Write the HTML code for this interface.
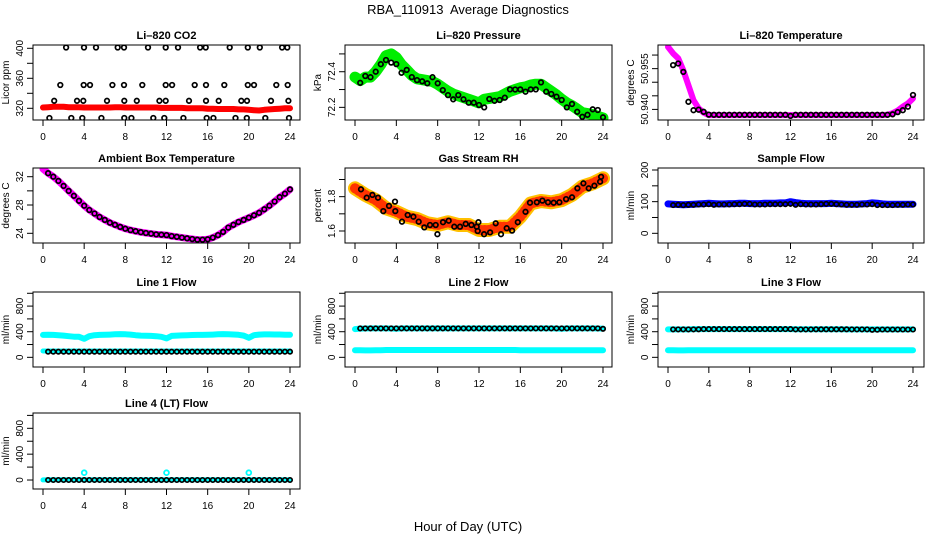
<!DOCTYPE html>
<html><head><meta charset="utf-8"><style>
html,body{margin:0;padding:0;background:#fff}
svg{display:block;font-family:"Liberation Sans",sans-serif}
</style></head><body>
<svg id="chart" width="936" height="540" viewBox="0 0 936 540" xmlns="http://www.w3.org/2000/svg">
<rect width="936" height="540" fill="#fff"/>
<text x="468" y="14" text-anchor="middle" font-size="13" xml:space="preserve" style="white-space:pre">RBA_110913  Average Diagnostics</text>
<text x="468" y="531" text-anchor="middle" font-size="13">Hour of Day (UTC)</text>
</svg>
<script>
// ---- shared x categories ----
const hours = [0,0.5,1,1.5,2,2.5,3,3.5,4,4.5,5,5.5,6,6.5,7,7.5,8,8.5,9,9.5,10,10.5,11,11.5,12,12.5,13,13.5,14,14.5,15,15.5,16,16.5,17,17.5,18,18.5,19,19.5,20,20.5,21,21.5,22,22.5,23,23.5,24];
const hoursB = [0.5,1,1.5,2,2.5,3,3.5,4,4.5,5,5.5,6,6.5,7,7.5,8,8.5,9,9.5,10,10.5,11,11.5,12,12.5,13,13.5,14,14.5,15,15.5,16,16.5,17,17.5,18,18.5,19,19.5,20,20.5,21,21.5,22,22.5,23,23.5,24];
const xTicks = [0,4,8,12,16,20,24];

// ---- Li-820 CO2 ----
const co2Red = [321,321.5,322,322,322,321.5,321.5,321.5,321,321,321,321,321,321,321.5,321.5,321,321,321,321,321,321,321,320.5,320.5,320.5,320.5,320.5,320,320,320,320,319.5,319.5,319,319,319,319,318.5,318.5,318,317.5,317,318,318.5,319,319.5,320,320];
const co2BlackHours = [2.24,3.98,5.15,7.26,7.87,10.2,11.92,13.12,15.26,15.81,18.14,19.9,21.07,23.23,23.74, 1.68,3.95,4.57,6.74,7.87,9.65,11.92,12.54,14.74,15.84,17.62,19.9,20.5,22.67,23.78, 1.09,3.3,3.92,6.22,7.9,9.11,11.31,11.92,14.19,15.84,17.07,19.27,19.82,22.15,23.84, 0.62,2.75,3.82,5.67,7.9,8.59,10.72,11.79,13.64,15.91,16.56,18.7,19.8,21.6,23.9];
const co2BlackVals = [401,401,401,401,401,401,401,401,401,401,401,401,401,401,401, 351,351,351,351,351,351,351,351,351,351,351,351,351,351,351, 330,330,330,330,330,330,330,330,330,330,330,330,330,330,330, 307,307,307,307,307,307,307,307,307,307,307,307,307,307,307];

// ---- Li-820 Pressure ----
const presGreen = [72.37,72.35,72.37,72.37,72.40,72.44,72.49,72.50,72.48,72.44,72.41,72.38,72.36,72.355,72.35,72.345,72.33,72.31,72.29,72.275,72.265,72.255,72.245,72.235,72.225,72.245,72.25,72.255,72.26,72.275,72.29,72.30,72.31,72.315,72.325,72.33,72.33,72.31,72.29,72.27,72.245,72.225,72.21,72.19,72.17,72.165,72.16,72.15,72.14];
const presBlack = [72.338,72.376,72.369,72.40,72.442,72.466,72.451,72.443,72.394,72.41,72.37,72.353,72.346,72.335,72.369,72.335,72.297,72.269,72.245,72.269,72.245,72.226,72.226,72.213,72.2,72.247,72.237,72.241,72.254,72.301,72.30,72.301,72.288,72.301,72.301,72.34,72.288,72.275,72.26,72.241,72.2,72.219,72.175,72.147,72.158,72.189,72.185,72.144];

// ---- Li-820 Temperature ----
const tempMag = [50.963,50.9606,50.9588,50.9544,50.9489,50.9434,50.9404,50.9388,50.9379,50.9379,50.9379,50.9379,50.9379,50.9379,50.9379,50.9379,50.9379,50.9379,50.9379,50.9379,50.9379,50.9379,50.9379,50.9379,50.9379,50.9379,50.9379,50.9379,50.9379,50.9379,50.9379,50.9379,50.9379,50.9379,50.9379,50.9379,50.9379,50.9379,50.9379,50.9379,50.9379,50.9379,50.9379,50.938,50.9386,50.9396,50.941,50.9422,50.944];
const tempBlack = [50.9563,50.9569,50.9538,50.9428,50.9397,50.9399,50.9391,50.9381,50.938,50.938,50.938,50.938,50.938,50.938,50.938,50.938,50.938,50.938,50.938,50.938,50.938,50.938,50.938,50.9376,50.938,50.938,50.938,50.938,50.938,50.938,50.938,50.938,50.938,50.938,50.938,50.938,50.938,50.938,50.938,50.938,50.938,50.938,50.938,50.9382,50.939,50.9397,50.941,50.9453];

// ---- Ambient Box Temperature ----
const ambMag = [33.1,32.5,32.0,31.4,30.7,30.0,29.3,28.6,27.9,27.3,26.8,26.3,25.9,25.5,25.2,24.9,24.65,24.45,24.3,24.15,24.05,23.95,23.85,23.8,23.75,23.6,23.5,23.4,23.3,23.2,23.1,23.1,23.15,23.4,23.75,24.2,24.8,25.2,25.6,25.9,26.2,26.55,26.9,27.4,27.9,28.5,29.1,29.6,30.2];
const ambBlack = [32.5,32.0,31.4,30.7,30.0,29.3,28.6,27.9,27.3,26.8,26.3,25.9,25.5,25.2,24.9,24.65,24.45,24.3,24.15,24.05,23.95,23.85,23.8,23.75,23.6,23.5,23.4,23.3,23.2,23.1,23.1,23.15,23.4,23.75,24.2,24.8,25.2,25.6,25.9,26.2,26.55,26.9,27.4,27.9,28.5,29.1,29.6,30.2];

// ---- Gas Stream RH ----
const rhHours = [0,1,2,3,4,5,6,7,8,9,10,11,12,13,14,15,16,17,18,19,20,21,22,23,24];
const rhOrange = [1.849,1.81,1.78,1.732,1.712,1.683,1.67,1.645,1.635,1.651,1.635,1.635,1.606,1.606,1.625,1.625,1.683,1.761,1.775,1.767,1.78,1.81,1.858,1.878,1.907];
const rhBlackHours = [0.58,1.13,1.68,2.23,2.74,3.29,3.87,3.9,4.55,5.1,5.65,6.16,6.71,7.26,7.81,7.97,8.52,9.07,9.61,10.16,10.71,11.26,11.78,11.87,11.94,12.49,13.07,13.62,14.13,14.68,15.2,15.75,16.5,16.94,17.59,18.14,18.68,19.23,19.78,20.43,21,21.52,22.1,22.62,23.17,23.72,23.82];
const rhBlackVals = [1.843,1.794,1.81,1.794,1.716,1.746,1.771,1.716,1.654,1.693,1.683,1.654,1.621,1.635,1.635,1.581,1.651,1.66,1.625,1.625,1.641,1.635,1.625,1.6,1.651,1.581,1.592,1.645,1.581,1.616,1.602,1.651,1.712,1.765,1.767,1.777,1.767,1.765,1.767,1.786,1.796,1.849,1.878,1.849,1.864,1.887,1.916];

// ---- Sample Flow ----
const sampleBlue = [93,92,91,90,91,92,93,94,95,94,93,93,94,94,95,95,94,94,94,95,95,95,96,96,100,97,95,94,94,94,94,94,95,94,93,92,92,92,93,94,96,95,93,92,92,92,92,92,92];
const sampleBlack = [89,90,89,90,90,91,91,92,90,91,91,91,92,92,93,93,91,91,91,92,92,92,92,93,90,92,91,91,91,92,93,93,92,91,90,90,90,91,91,92,89,89,89,89,90,90,91,91];

// ---- Line 1 Flow ----
const l1High = [350,352,350,345,340,330,322,320,290,330,345,350,352,355,360,362,360,355,345,340,338,335,330,320,296,335,340,342,345,348,350,350,352,355,360,362,360,356,352,340,305,345,355,358,358,356,356,354,352];
const l1Low = [99,99,99,99,99,99,99,99,99,99,99,99,99,99,99,99,99,99,99,99,99,99,99,99,99,99,99,99,99,99,99,99,99,99,99,99,99,99,99,99,99,99,99,99,99,99,99,99,99];
const l1Black = [88,88,88,88,88,88,88,88,88,88,88,88,88,88,88,88,88,88,88,88,88,88,88,88,88,88,88,88,88,88,88,88,88,88,88,88,88,88,88,88,88,88,88,88,88,88,88,88];

// ---- Line 2 Flow ----
const l2High = [440,448,450,452,452,452,452,450,445,452,452,452,452,452,452,452,452,452,452,452,452,452,452,452,452,452,452,452,452,452,452,452,452,452,452,452,452,452,452,450,445,452,452,452,452,452,452,450,448];
const l2Low = [110,110,108,108,110,112,114,114,114,114,114,114,114,114,114,114,114,114,114,114,114,114,114,114,114,114,114,114,114,114,114,114,112,112,112,112,112,112,112,112,112,112,112,112,112,112,112,112,112];
const l2Black = [452,452,452,452,452,452,452,452,452,452,452,452,452,452,452,452,452,452,452,452,452,452,452,452,452,452,452,452,452,452,452,452,452,452,452,452,452,452,452,452,452,452,452,452,452,452,452,445];

// ---- Line 3 Flow ----
const l3High = [436,436,436,436,436,440,440,440,440,440,440,440,440,440,440,440,440,440,440,440,440,440,440,440,440,438,438,438,438,438,438,438,438,438,438,436,436,436,436,436,436,436,436,436,436,436,436,436,436];
const l3Low = [109,109,108,108,110,110,110,110,110,110,110,110,110,112,112,112,112,112,112,112,112,112,112,112,112,112,112,112,112,112,112,112,110,110,110,110,110,110,110,110,110,110,110,110,110,110,110,110,109];
const l3Black = [436,436,436,436,436,438,440,440,440,440,440,440,440,440,440,440,440,440,440,440,440,440,440,440,436,436,436,436,438,438,438,438,438,438,438,436,436,436,436,430,432,434,434,434,434,434,434,434];

// ---- Line 4 (LT) Flow ----
const l4Cyan = [2,3,3,3,3,3,3,3,3,3,3,3,3,3,3,3,3,3,3,3,3,3,3,3,3,3,3,3,3,3,3,3,3,3,3,3,3,3,3,3,3,3,3,3,3,3,3,3,3];
const l4SpikeHours = [4,12,20];
const l4SpikeVals = [113,113,113];
const l4Black = [0,0,0,0,0,0,0,0,0,0,0,0,0,0,0,0,0,0,0,0,0,0,0,0,0,0,0,0,0,0,0,0,0,0,0,0,0,0,0,0,0,0,0,0,0,0,0,0];

// ---- Y tick values ----
const co2Ticks = [320,340,360,380,400], co2Labels = ["320","","360","","400"];
const presTicks = [72.2,72.3,72.4,72.5], presLabels = ["72.2","","72.4",""];
const tempTicks = [50.940,50.945,50.950,50.955,50.960], tempLabels = ["50.940","","","50.955",""];
const ambTicks = [24,26,28,30,32], ambLabels = ["24","","28","","32"];
const rhTicks = [1.6,1.7,1.8,1.9], rhLabels = ["1.6","","1.8",""];
const sampleTicks = [0,50,100,150,200], sampleLabels = ["0","","100","","200"];
const flowTicks = [0,200,400,600,800,1000], flowLabels = ["0","","400","","800",""];

// ---- layout (not data) ----
const COLS = [{l:33,r:300,x0:43,x24:290},{l:345,r:612,x0:355,x24:603},{l:658,r:924,x0:668,x24:913}];
const ROWS = [{t:45,b:120},{t:168,b:243},{t:292,b:367},{t:413,b:489}];
const NS = "http://www.w3.org/2000/svg";
const svg = document.getElementById("chart");

function el(tag, attrs, parent){
  const e = document.createElementNS(NS, tag);
  for (const k in attrs) e.setAttribute(k, attrs[k]);
  (parent||svg).appendChild(e);
  return e;
}

function makePanel(name, title, ylab, col, row, ymin, ymax, ticks, labels){
  const C = COLS[col], R = ROWS[row];
  const g = el("g", {});
  
  
  const sx = h => C.x0 + (h/24)*(C.x24 - C.x0);
  const sy = v => R.b - (v - ymin)/(ymax - ymin)*(R.b - R.t);
  const t = el("text", {x:(C.l+C.r)/2, y:R.t-6, "text-anchor":"middle", "font-size":"11", "font-weight":"bold"}, g);
  t.textContent = title;
  
  
  const xa = el("g", {stroke:"#000","stroke-width":"1"}, g);
  
  
  el("line", {x1:sx(0), x2:sx(24), y1:R.b, y2:R.b}, xa);
  xTicks.forEach(h => {
    el("line", {x1:sx(h), x2:sx(h), y1:R.b, y2:R.b+6}, xa);
    const tl = el("text", {x:sx(h), y:R.b+20, "text-anchor":"middle", "font-size":"10", stroke:"none", fill:"#000"}, xa);
    tl.textContent = String(h);
    
    
  });
  const ya = el("g", {stroke:"#000","stroke-width":"1"}, g);
  
  
  el("line", {x1:C.l, x2:C.l, y1:sy(ticks[0]), y2:sy(ticks[ticks.length-1])}, ya);
  ticks.forEach((v,i) => {
    el("line", {x1:C.l-6, x2:C.l, y1:sy(v), y2:sy(v)}, ya);
    if (labels[i]) {
      const x = C.l-10, y = sy(v);
      const tl = el("text", {x:x, y:y, "text-anchor":"middle", "font-size":"10", stroke:"none", fill:"#000", transform:`rotate(-90 ${x} ${y})`}, ya);
      tl.textContent = labels[i];
      
      
    }
  });
  const yx = C.l-24, yy = (R.t+R.b)/2;
  const yl = el("text", {x:yx, y:yy, "text-anchor":"middle", "font-size":"10", transform:`rotate(-90 ${yx} ${yy})`}, g);
  yl.textContent = ylab;
  
  
  const cid = "clip-" + name;
  const cp = el("clipPath", {id:cid}, g);
  el("rect", {x:C.l, y:R.t, width:C.r-C.l, height:R.b-R.t}, cp);
  const plot = el("g", {"clip-path":`url(#${cid})`}, g);
  
  
  const box = el("rect", {x:C.l, y:R.t, width:C.r-C.l, height:R.b-R.t, fill:"none", stroke:"#000", "stroke-width":"1"}, g);
  
  
  return {sx, sy, plot};
}

function band(P, xs, vs, color, width, name){
  const pts = vs.map((v,i) => P.sx(xs[i]).toFixed(1) + "," + P.sy(v).toFixed(1)).join(" ");
  const pl = el("polyline", {points:pts, fill:"none", stroke:color, "stroke-width":width, "stroke-linejoin":"round", "stroke-linecap":"round"}, P.plot);
  
  
  return pl;
}
function dots(P, xs, vs, color, r, sw, name){
  const g = el("g", {fill:"none", stroke:color, "stroke-width":sw}, P.plot);
  
  
  vs.forEach((v,i) => {
    const c = el("circle", {cx:P.sx(xs[i]).toFixed(1), cy:P.sy(v).toFixed(1), r:r}, g);
    
    
  });
}

let P = makePanel("co2", "Li\u2013820 CO2", "Licor ppm", 0, 0, 304.4, 404.4, co2Ticks, co2Labels);
band(P, hours, co2Red, "#ff0000", 6, "co2-series");
dots(P, co2BlackHours, co2BlackVals, "#000", 2.3, 1.7, "co2-hourly-means");

P = makePanel("pressure", "Li\u2013820 Pressure", "kPa", 1, 0, 72.129, 72.55, presTicks, presLabels);
band(P, hours, presGreen, "#00ee00", 11, "pressure-series");
dots(P, hoursB, presBlack, "#000", 2.3, 1.7, "pressure-means");

P = makePanel("li820-temp", "Li\u2013820 Temperature", "degrees C", 2, 0, 50.9361, 50.9637, tempTicks, tempLabels);
band(P, hours, tempMag, "#ff00ff", 6, "li820-temp-series");
dots(P, hoursB, tempBlack, "#000", 2.3, 1.7, "li820-temp-means");

P = makePanel("ambient", "Ambient Box Temperature", "degrees C", 0, 1, 22.63, 33.23, ambTicks, ambLabels);
band(P, hours, ambMag, "#ff00ff", 7, "ambient-series");
dots(P, hoursB, ambBlack, "#000", 2.3, 1.7, "ambient-means");

P = makePanel("rh", "Gas Stream RH", "percent", 1, 1, 1.530, 1.967, rhTicks, rhLabels);
band(P, rhHours, rhOrange, "#ffc000", 14, "rh-series");
band(P, rhHours, rhOrange, "#ff3300", 10, "rh-series-core").setAttribute("stroke-dasharray","1 3");
dots(P, rhBlackHours, rhBlackVals, "#000", 2.3, 1.7, "rh-means");

P = makePanel("sample-flow", "Sample Flow", "ml/min", 2, 1, -30.6, 206.3, sampleTicks, sampleLabels);
band(P, hours, sampleBlue, "#0000ff", 7, "sample-flow-series");
dots(P, hoursB, sampleBlack, "#000", 2.2, 1.7, "sample-flow-means");

P = makePanel("line1-flow", "Line 1 Flow", "ml/min", 0, 2, -151, 1020, flowTicks, flowLabels);
band(P, hours, l1High, "#00ffff", 6, "line1-high-series");
band(P, hours, l1Low, "#00ffff", 5, "line1-low-series");
dots(P, hoursB, l1Black, "#000", 2.2, 1.7, "line1-means");

P = makePanel("line2-flow", "Line 2 Flow", "ml/min", 1, 2, -151, 1020, flowTicks, flowLabels);
band(P, hours, l2High, "#00ffff", 6, "line2-high-series");
band(P, hours, l2Low, "#00ffff", 6, "line2-low-series");
dots(P, hoursB, l2Black, "#000", 2.2, 1.7, "line2-means");

P = makePanel("line3-flow", "Line 3 Flow", "ml/min", 2, 2, -151, 1020, flowTicks, flowLabels);
band(P, hours, l3High, "#00ffff", 6, "line3-high-series");
band(P, hours, l3Low, "#00ffff", 6, "line3-low-series");
dots(P, hoursB, l3Black, "#000", 2.2, 1.7, "line3-means");

P = makePanel("line4-flow", "Line 4 (LT) Flow", "ml/min", 0, 3, -139, 1037, flowTicks, flowLabels);
band(P, hours, l4Cyan, "#00ffff", 5, "line4-series");
dots(P, l4SpikeHours, l4SpikeVals, "#00ffff", 2.4, 1.8, "line4-spikes");
dots(P, hoursB, l4Black, "#000", 2.2, 1.7, "line4-means");
</script>
</body></html>
